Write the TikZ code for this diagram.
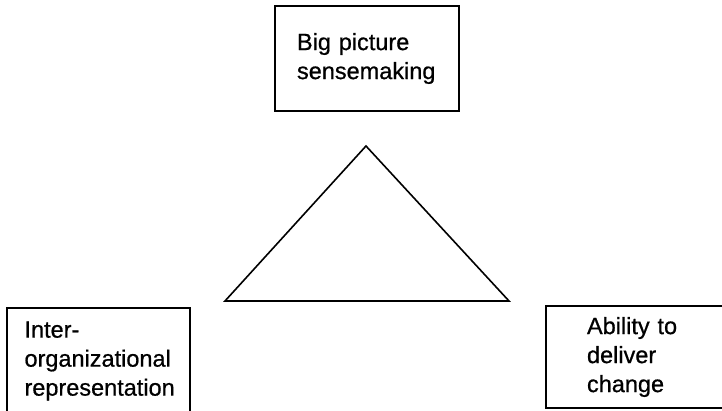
\documentclass[tikz,border=0pt]{standalone}
\usepackage{fontspec}
\setmainfont[FakeBold=0.7]{Liberation Sans}
\begin{document}
\begin{tikzpicture}[x=1pt,y=1pt,
  boxnode/.style={draw=black, line width=1.7pt, inner xsep=0pt, inner ysep=0pt,
    align=left, font=\fontsize{23.5}{29}\selectfont},
  triline/.style={draw=black, line width=1.6pt, line join=miter}]
\useasboundingbox (0,0) rectangle (722,410);
\clip (0,0) rectangle (722,410);
\node[boxnode, minimum width=184pt, minimum height=105pt, text width=140pt] (big) at (367,351.5)
  {Big picture\\sensemaking};
\node[boxnode, minimum width=183pt, minimum height=106pt, text width=148pt] (inter) at (98.5,49)
  {Inter-\\organizational\\representation};
\node[boxnode, minimum width=200pt, minimum height=102pt, text width=118pt] (abil) at (646,53)
  {Ability to\\deliver\\change};
\coordinate (apex) at (366,264);
\coordinate (bl) at (225,109);
\coordinate (br) at (509,109);
\draw[triline] (apex) -- (bl) -- (br) -- cycle;
\end{tikzpicture}
\end{document}
